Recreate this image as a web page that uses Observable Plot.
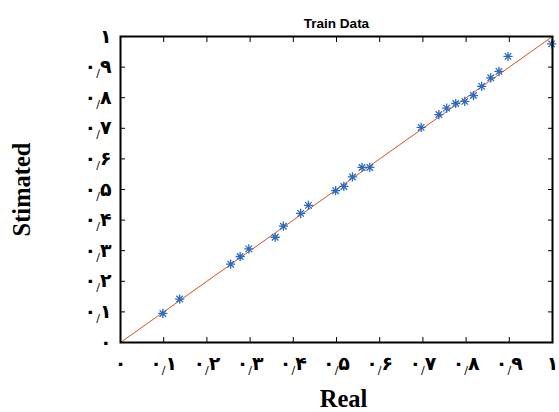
<!DOCTYPE html>
<html>
<head>
<meta charset="utf-8">
<script src="https://cdn.jsdelivr.net/npm/d3@7"></script>
<script src="https://cdn.jsdelivr.net/npm/@observablehq/plot@0.6"></script>
<style>
  html, body { margin: 0; padding: 0; background: white; }
</style>
</head>
<body>
<div id="chart"></div>
<script>
const real = [0.098, 0.137, 0.255, 0.277, 0.297, 0.358, 0.377, 0.417, 0.435, 0.498, 0.517, 0.537, 0.559, 0.577, 0.696, 0.737, 0.755, 0.776, 0.797, 0.817, 0.836, 0.857, 0.876, 0.897, 0.998];
const estimated = [0.095, 0.142, 0.256, 0.281, 0.306, 0.344, 0.380, 0.422, 0.448, 0.496, 0.510, 0.541, 0.572, 0.572, 0.703, 0.745, 0.766, 0.781, 0.788, 0.807, 0.837, 0.865, 0.886, 0.935, 0.976];
const ticks = [0, 0.1, 0.2, 0.3, 0.4, 0.5, 0.6, 0.7, 0.8, 0.9, 1];
const tickLabels = ["۰", "۰/۱", "۰/۲", "۰/۳", "۰/۴", "۰/۵", "۰/۶", "۰/۷", "۰/۸", "۰/۹", "۱"];
const identity = [0, 1];
const title = "Train Data";
const xLabel = "Real";
const yLabel = "Stimated";

const data = real.map((r, i) => ({real: r, est: estimated[i]}));
const fmt = d => tickLabels[Math.round(d * 10)];
const labelFont = {fontSize: 19, fontWeight: "bold", fontFamily: "'DejaVu Sans', sans-serif"};

// MATLAB-like 8-arm asterisk
const asterisk8 = {
  draw(context, size) {
    const r = Math.sqrt(size / Math.PI);
    const d = r * Math.SQRT1_2;
    context.moveTo(-r, 0); context.lineTo(r, 0);
    context.moveTo(0, -r); context.lineTo(0, r);
    context.moveTo(-d, -d); context.lineTo(d, d);
    context.moveTo(-d, d); context.lineTo(d, -d);
  }
};

const chart = Plot.plot({
  width: 559,
  height: 412,
  marginLeft: 120,
  marginRight: 7,
  marginTop: 36,
  marginBottom: 70,
  style: {background: "white", color: "black"},
  x: {domain: [0, 1]},
  y: {domain: [0, 1]},
  marks: [
    Plot.line(identity, {x: d => d, y: d => d, stroke: "#D95319", strokeWidth: 1}),
    Plot.dot(data, {x: "real", y: "est", symbol: asterisk8, r: 4.6, stroke: "#2a6bbf", strokeWidth: 1.3}),
    Plot.axisX({ticks, anchor: "bottom", tickSize: 5, dy: -5, tickFormat: () => "", label: null}),
    Plot.axisX({ticks, anchor: "top", tickSize: 5, dy: 5, tickFormat: () => "", label: null}),
    Plot.axisY({ticks, anchor: "left", tickSize: 5, dx: 5, tickFormat: () => "", label: null}),
    Plot.axisY({ticks, anchor: "right", tickSize: 5, dx: -5, tickFormat: () => "", label: null}),
    Plot.axisX({ticks, anchor: "bottom", tickSize: 0, tickPadding: 14, tickFormat: fmt, label: null, ...labelFont}),
    Plot.axisY({ticks, anchor: "left", tickSize: 0, tickPadding: 9, tickFormat: fmt, label: null, ...labelFont}),
    Plot.frame({stroke: "black", strokeWidth: 2}),
    Plot.text([title], {frameAnchor: "top", dy: -18, text: d => d, fontSize: 13.5, fontWeight: "bold", fontFamily: "'Liberation Sans', Arial, sans-serif"}),
    Plot.text([xLabel], {frameAnchor: "bottom", dy: 64, dx: 7, text: d => d, fontSize: 24.5, fontWeight: "bold", fontFamily: "'Liberation Serif', serif"}),
    Plot.text([yLabel], {frameAnchor: "left", dx: -98, dy: 0, rotate: -90, textAnchor: "middle", text: d => d, fontSize: 24.5, fontWeight: "bold", fontFamily: "'Liberation Serif', serif"})
  ]
});

// render the decimal slash small, thin and lowered as in the reference
chart.querySelectorAll('g[aria-label$="tick label"] text').forEach(t => {
  const s = t.textContent;
  if (!s.includes("/")) return;
  const [a, b] = s.split("/");
  t.textContent = "";
  const ns = "http://www.w3.org/2000/svg";
  const t1 = document.createElementNS(ns, "tspan"); t1.textContent = a;
  const t2 = document.createElementNS(ns, "tspan"); t2.textContent = "/";
  t2.setAttribute("font-weight", "normal"); t2.setAttribute("font-size", "11"); t2.setAttribute("dy", "4");
  const t3 = document.createElementNS(ns, "tspan"); t3.textContent = b; t3.setAttribute("dy", "-4");
  t.append(t1, t2, t3);
});
document.getElementById("chart").appendChild(chart);
</script>
</body>
</html>
